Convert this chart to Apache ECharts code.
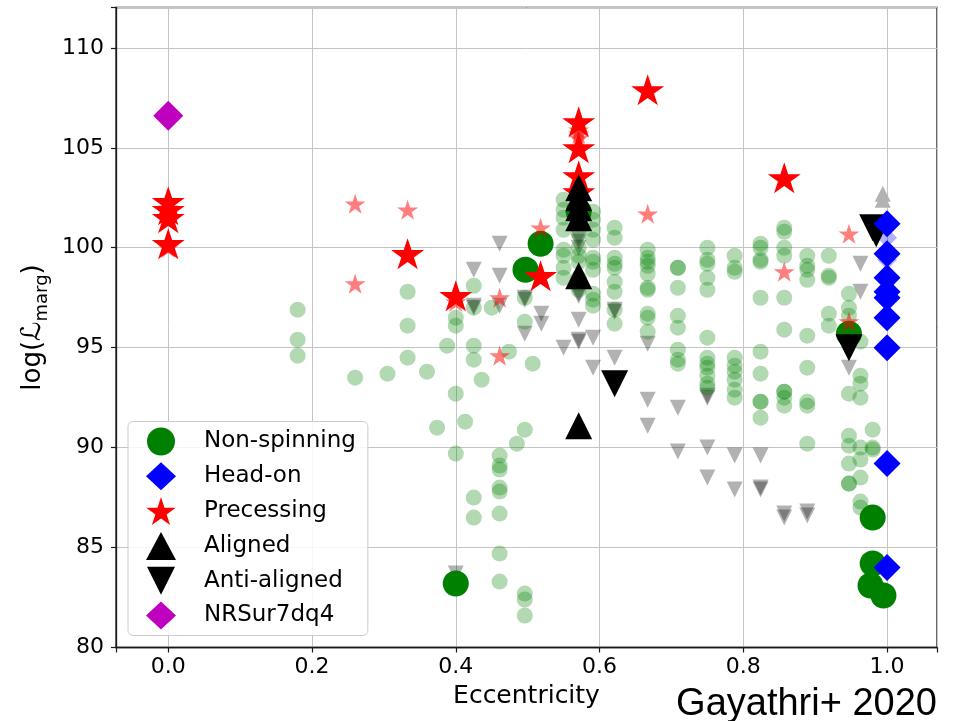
<!DOCTYPE html>
<html>
<head>
<meta charset="utf-8">
<script src="https://cdn.jsdelivr.net/npm/echarts@6/dist/echarts.min.js"></script>
<style>html,body{margin:0;padding:0;background:#fff}#c{width:958px;height:721px}</style>
</head>
<body>
<div id="c"></div>
<script>
// ---- data (eccentricity, log L_marg) ----
const nonSpinBold = [[0.4,83.2],[0.497,98.9],[0.518,100.2],[0.571,101.8],[0.947,95.7],[0.98,86.5],[0.98,84.2],[0.977,83.1],[0.995,82.6]];
const nonSpinFaded = [
 [0.18,96.9],[0.18,95.4],[0.18,94.6],[0.26,93.5],[0.305,93.7],[0.333,97.8],[0.333,96.1],[0.333,94.5],[0.36,93.8],[0.374,91.0],[0.388,95.1],
 [0.4,96.5],[0.4,96.1],[0.4,92.7],[0.4,89.7],[0.413,91.3],[0.425,98.1],[0.425,97.0],[0.425,95.1],[0.425,94.4],[0.425,87.5],[0.425,86.5],
 [0.436,93.4],[0.45,97.0],[0.461,89.6],[0.461,89.1],[0.461,88.9],[0.461,88.0],[0.461,87.8],[0.461,86.7],[0.461,84.7],[0.461,83.3],
 [0.474,94.8],[0.485,90.2],[0.496,97.5],[0.496,96.3],[0.496,90.9],[0.496,82.7],[0.496,82.4],[0.496,81.6],[0.507,94.2],
 [0.55,102.4],[0.55,101.9],[0.55,101.5],[0.55,100.9],[0.55,99.9],[0.55,99.6],[0.55,99.0],[0.55,98.5],
 [0.571,102.3],[0.571,101.7],[0.571,100.7],[0.571,100.0],[0.571,99.6],[0.571,99.3],[0.571,98.5],[0.571,98.2],[0.571,97.9],
 [0.591,101.8],[0.591,101.4],[0.591,100.9],[0.591,100.4],[0.591,99.5],[0.591,99.3],[0.591,98.9],[0.591,97.7],[0.591,97.4],[0.591,97.1],
 [0.621,101.0],[0.621,100.5],[0.621,99.5],[0.621,99.2],[0.621,99.0],[0.621,98.3],[0.621,97.8],[0.621,96.9],[0.621,96.2],
 [0.667,99.9],[0.667,99.5],[0.667,99.3],[0.667,99.1],[0.667,98.7],[0.667,98.0],[0.667,97.9],[0.667,96.7],[0.667,96.5],[0.667,95.8],
 [0.709,99.0],[0.709,99.0],[0.709,98.0],[0.709,96.6],[0.709,96.0],[0.709,94.9],[0.709,94.4],[0.709,94.2],
 [0.75,100.0],[0.75,99.4],[0.75,99.2],[0.75,98.5],[0.75,97.9],[0.75,95.5],[0.75,94.5],[0.75,94.2],[0.75,94.0],[0.75,93.6],[0.75,93.2],[0.75,93.0],
 [0.788,99.6],[0.788,99.0],[0.788,98.8],[0.788,94.5],[0.788,94.1],[0.788,93.8],[0.788,93.4],[0.788,92.9],[0.788,92.5],
 [0.824,100.2],[0.824,100.0],[0.824,99.4],[0.824,99.3],[0.824,97.5],[0.824,94.8],[0.824,93.7],[0.824,92.3],[0.824,92.3],[0.824,91.5],
 [0.857,101.0],[0.857,100.8],[0.857,100.0],[0.857,99.6],[0.857,97.5],[0.857,95.9],[0.857,92.8],[0.857,92.8],[0.857,92.5],[0.857,92.1],
 [0.889,99.6],[0.889,99.1],[0.889,98.9],[0.889,98.4],[0.889,95.6],[0.889,94.0],[0.889,92.3],[0.889,92.1],[0.889,90.2],
 [0.919,99.6],[0.919,98.6],[0.919,98.5],[0.919,96.7],[0.919,96.1],
 [0.947,97.7],[0.947,97.0],[0.947,96.6],[0.947,92.7],[0.947,90.6],[0.947,90.1],[0.947,89.2],[0.947,88.2],[0.947,88.2],
 [0.963,95.3],[0.963,93.6],[0.963,93.2],[0.963,92.5],[0.963,90.0],[0.963,89.4],[0.963,88.5],[0.963,87.3],[0.963,87.0],
 [0.98,90.9],[0.98,90.0],[0.98,89.9],[0.98,84.4]
];
const headOnBold = [[1,101.2],[1,99.7],[1,98.5],[1,97.8],[1,97.5],[1,96.5],[1,95.0],[1,89.2],[1,84.0]];
const headOnFaded = [[1,100.5],[1,99.4]];
const precBold = [[0,102.3],[0,101.9],[0,101.5],[0,100.2],[0.333,99.7],[0.4,97.6],[0.518,98.6],[0.571,106.3],[0.571,105.0],[0.571,103.6],[0.571,102.8],[0.667,107.9],[0.857,103.5]];
const precFaded = [[0,102.0],[0,100.0],[0.26,102.2],[0.26,98.2],[0.333,101.9],[0.4,97.3],[0.461,97.5],[0.461,94.6],[0.518,101.0],[0.571,105.9],[0.571,105.7],[0.571,105.5],[0.667,101.7],[0.857,98.8],[0.947,100.7],[0.947,96.3]];
const alignedBold = [[0.571,103.0],[0.571,102.5],[0.571,102.0],[0.571,101.5],[0.571,98.6],[0.571,91.1]];
const alignedFaded = [[0.994,102.7],[0.994,102.4]];
const antiBold = [[0.621,93.2],[0.98,101.0],[0.985,100.7],[0.947,95.0]];
const antiFaded = [
 [0.461,100.2],[0.425,98.9],[0.461,98.6],[0.425,97.1],[0.425,97.0],[0.461,97.1],[0.496,97.5],[0.496,97.4],[0.496,95.7],[0.519,96.7],[0.519,96.2],
 [0.571,100.5],[0.571,100.3],[0.571,100.0],[0.571,97.7],[0.571,97.6],[0.571,96.4],[0.571,95.4],[0.571,95.3],[0.591,95.5],[0.55,95.0],[0.591,94.0],
 [0.621,96.9],[0.621,96.8],[0.621,94.5],[0.667,95.2],[0.667,92.4],[0.667,91.1],[0.709,92.0],[0.709,89.8],[0.75,92.6],[0.75,92.5],[0.75,90.0],[0.75,88.5],
 [0.788,89.6],[0.788,87.9],[0.824,89.6],[0.824,88.0],[0.824,87.9],[0.857,86.7],[0.857,86.5],[0.889,86.8],[0.889,86.6],[0.947,94.0],[0.963,99.2],[0.963,97.8],[0.4,83.7]
];
const nrsur = [[0,106.6]];
const legendNames = ['Non-spinning','Head-on','Precessing','Aligned','Anti-aligned','NRSur7dq4'];

// ---- symbols ----
const STAR = 'path://M100,0L122.45,69.1L195.11,69.1L136.33,111.8L158.78,180.9L100,138.2L41.22,180.9L63.67,111.8L4.89,69.1L77.55,69.1Z';
const DOWN = 'path://M0,0L20,0L10,20Z';
const FONT = 'DejaVu Sans';

function sc(name, data, symbol, size, color) {
  return { type: 'scatter', name: name, data: data, symbol: symbol, symbolSize: size,
    itemStyle: { color: color, opacity: 1, borderWidth: 0 }, silent: true, emphasis: { disabled: true } };
}

const chart = echarts.init(document.getElementById('c'), null, { renderer: 'canvas' });
chart.setOption({
  animation: false,
  backgroundColor: '#ffffff',
  grid: { left: 116, right: 21, top: 7.5, bottom: 73.5, show: true, borderColor: '#1a1a1a', borderWidth: 1.3, backgroundColor: 'transparent' },
  xAxis: {
    type: 'value', min: -0.0727, max: 1.0695, splitNumber: 5,
    name: 'Eccentricity', nameLocation: 'middle', nameGap: 36,
    nameTextStyle: { fontFamily: FONT, fontSize: 25, color: '#000' },
    axisLine: { show: true, onZero: false, lineStyle: { color: '#1a1a1a', width: 1.3 } },
    axisTick: { show: true, length: 5, lineStyle: { color: '#1a1a1a', width: 1.2 } },
    axisLabel: { fontFamily: FONT, fontSize: 22, color: '#000', margin: 9, showMinLabel: true, showMaxLabel: true,
      formatter: function (v) { const k = v / 0.2; return Math.abs(k - Math.round(k)) < 1e-6 ? v.toFixed(1) : ''; } },
    splitLine: { show: true, lineStyle: { color: '#c4c4c4', width: 1 } }
  },
  yAxis: {
    type: 'value', min: 80, max: 112.02, interval: 5,
    name: '{a|log(}{b|ℒ}{c|marg}{a|)}', nameLocation: 'middle', nameGap: 55,
    nameTextStyle: { color: '#000', rich: {
      a: { fontFamily: FONT, fontSize: 26, lineHeight: 36, verticalAlign: 'middle' },
      b: { fontFamily: FONT, fontSize: 27, lineHeight: 36, verticalAlign: 'middle' },
      c: { fontFamily: FONT, fontSize: 18, lineHeight: 18, verticalAlign: 'bottom' } } },
    axisLine: { show: true, onZero: false, lineStyle: { color: '#1a1a1a', width: 1.3 } },
    axisTick: { show: true, length: 5, lineStyle: { color: '#1a1a1a', width: 1.2 } },
    axisLabel: { fontFamily: FONT, fontSize: 22, color: '#000', margin: 12,
      formatter: function (v) { return Math.abs(v / 5 - Math.round(v / 5)) < 1e-6 ? String(Math.round(v)) : ''; } },
    splitLine: { show: true, lineStyle: { color: '#c4c4c4', width: 1 } }
  },
  legend: {
    orient: 'vertical', left: 128, top: 421.5,
    padding: [6, 12, 6, 18], itemGap: 6.8, itemWidth: 30, itemHeight: 28,
    backgroundColor: 'rgba(255,255,255,0.85)', borderColor: '#cccccc', borderWidth: 1, borderRadius: 5,
    textStyle: { fontFamily: FONT, fontSize: 23, color: '#000', lineHeight: 28, padding: [0, 0, 0, 23] },
    selectedMode: false,
    data: [
      { name: legendNames[0], icon: 'circle' },
      { name: legendNames[1], icon: 'diamond' },
      { name: legendNames[2], icon: STAR },
      { name: legendNames[3], icon: 'triangle' },
      { name: legendNames[4], icon: DOWN },
      { name: legendNames[5], icon: 'diamond' }
    ]
  },
  graphic: [{
    type: 'text', right: 21, top: 686,
    style: { text: 'Gayathri+ 2020', font: '38px "Liberation Sans"', fill: '#000' }
  }],
  series: [
    sc('af', alignedFaded, 'triangle', 16, '#b3b3b3'),
    sc('df', antiFaded, DOWN, 16, 'rgba(0,0,0,0.3)'),
    sc('nf', nonSpinFaded, 'circle', 16, 'rgba(0,128,0,0.3)'),
    sc(legendNames[0], nonSpinBold, 'circle', 26, '#008000'),
    sc('pf', precFaded, STAR, [21, 20], 'rgba(255,0,0,0.5)'),
    sc(legendNames[2], precBold, STAR, [33, 31], '#ff0000'),
    sc('hf', headOnFaded, 'diamond', 20, 'rgba(0,0,255,0.3)'),
    sc(legendNames[3], alignedBold, 'triangle', 27, '#000000'),
    sc(legendNames[4], antiBold, DOWN, 27, '#000000'),
    sc(legendNames[1], headOnBold, 'diamond', 27, '#0000ff'),
    sc(legendNames[5], nrsur, 'diamond', 30, '#bf00bf')
  ]
});
</script>
</body>
</html>
